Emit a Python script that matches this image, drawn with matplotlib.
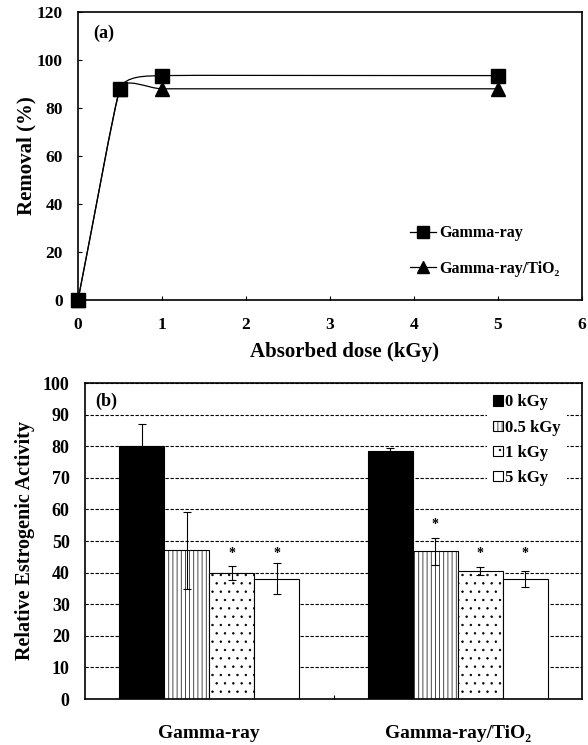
import numpy as np
import matplotlib
matplotlib.use('Agg')
import matplotlib.pyplot as plt
from matplotlib.path import Path
from matplotlib.patches import PathPatch
from matplotlib.lines import Line2D

# panel (a): removal vs absorbed dose
dose = [0, 0.5, 1, 5]
removal_gamma = [0, 88, 93.5, 93.5]
removal_tio2 = [0, 88, 88, 88]

# panel (b): relative estrogenic activity
groups = ['Gamma-ray', 'Gamma-ray/TiO₂']
dose_labels = ['0 kGy', '0.5 kGy', '1 kGy', '5 kGy']
act_gamma = [80, 47, 40, 38.1]
err_gamma = [7, 12.2, 2.2, 4.9]
act_tio2 = [78.6, 46.8, 40.5, 38.1]
err_tio2 = [0.9, 4.3, 1.4, 2.5]
star_gamma = [None, None, 46, 46]
star_tio2 = [None, 55.3, 46, 46]

plt.rcParams['font.family'] = ['Liberation Serif', 'DejaVu Serif']
plt.rcParams['font.weight'] = 'bold'
plt.rcParams['axes.labelweight'] = 'bold'
plt.rcParams['hatch.linewidth'] = 0.5
plt.rcParams['hatch.color'] = '#333333'


def smooth_path(ax, x, y):
    # Excel-like smoothed line, built in display space then mapped back
    pts = ax.transData.transform(np.column_stack([x, y]))
    n = len(pts)
    seg = [np.hypot(*(pts[i + 1] - pts[i])) for i in range(n - 1)]
    tang = []
    for i in range(n):
        d = pts[min(i + 1, n - 1)] - pts[max(i - 1, 0)]
        tang.append(d / np.hypot(*d))
    verts = [pts[0]]
    codes = [Path.MOVETO]
    for i in range(n - 1):
        a = min(seg[i], seg[i - 1]) if i > 0 else seg[i]
        b = min(seg[i], seg[i + 1]) if i + 1 < n - 1 else seg[i]
        verts += [pts[i] + tang[i] * a / 3, pts[i + 1] - tang[i + 1] * b / 3, pts[i + 1]]
        codes += [Path.CURVE4] * 3
    verts = ax.transData.inverted().transform(np.array(verts))
    return Path(verts, codes)


fig = plt.figure(figsize=(5.88, 7.45), dpi=100)

# ---------------- (a) ----------------
ax1 = fig.add_axes([78 / 588, 1 - 300 / 745, 504 / 588, 288 / 745])
ax1.set_xlim(0, 6)
ax1.set_ylim(0, 120)
ax1.set_xticks(range(7))
ax1.set_yticks(range(0, 121, 20))
for s in ax1.spines.values():
    s.set_linewidth(1.2)
ax1.tick_params(direction='in', length=3, width=0.8, labelsize=12.5, pad=11)
ax1.tick_params(axis='x', pad=12)

for yy, mk in [(removal_tio2, '^'), (removal_gamma, 's')]:
    ax1.add_patch(PathPatch(smooth_path(ax1, dose, yy), fill=False, lw=0.9, color='black', zorder=2))
    ax1.plot(dose, yy, mk, color='black', ms=10, zorder=3, clip_on=False)

handles = [Line2D([], [], color='black', lw=0.9, marker='s', ms=8),
           Line2D([], [], color='black', lw=0.9, marker='^', ms=8)]
ax1.legend(handles, ['Gamma-ray', 'Gamma-ray/TiO₂'], loc='center left',
           bbox_to_anchor=(0.659, 0.17), frameon=False, fontsize=11.5,
           borderpad=0, borderaxespad=0, handlelength=1.6, handletextpad=0.2,
           labelspacing=1.2)
ax1.text(0.03, 0.927, '(a)', transform=ax1.transAxes, fontsize=13, va='center')
ax1.set_xlabel('Absorbed dose (kGy)', fontsize=15)
ax1.set_ylabel('Removal (%)', fontsize=15)
ax1.xaxis.set_label_coords(0.528, -0.145)
ax1.yaxis.set_label_coords(-0.083, 0.5)

# ---------------- (b) ----------------
ax2 = fig.add_axes([85 / 588, 1 - 699 / 745, 497 / 588, 316 / 745])
ax2.set_xlim(-0.5, 1.5)
ax2.set_ylim(0, 100)
ax2.set_yticks(range(0, 101, 10))
for s in ax2.spines.values():
    s.set_linewidth(1.2)
ax2.yaxis.grid(True, linestyle=(0, (3, 1.5)), color='black', lw=0.8)
ax2.set_axisbelow(True)

x = np.arange(len(groups))
w = 0.181
fills = ['black', 'white', 'white', 'white']
hatches = [None, '||||', '..', None]
for i in range(4):
    xi = x + (i - 1.5) * w
    ax2.bar(xi, [act_gamma[i], act_tio2[i]], w, yerr=[err_gamma[i], err_tio2[i]],
            color=fills[i], edgecolor='black', hatch=hatches[i], lw=0.8,
            label=dose_labels[i], zorder=2,
            error_kw=dict(ecolor='black', elinewidth=0.8, capsize=3, capthick=0.8))
    for xs, st in zip(xi, [star_gamma[i], star_tio2[i]]):
        if st is not None:
            ax2.text(xs, st, '*', ha='center', va='center', fontsize=10, zorder=4)

ax2.set_xticks(x, groups)
ax2.set_xticks([0.5], minor=True)
ax2.tick_params(axis='x', which='major', length=0, labelsize=14, pad=19)
ax2.tick_params(axis='x', which='minor', direction='in', length=3, width=0.8)
ax2.tick_params(axis='y', length=0, labelsize=13, pad=11)
ax2.set_ylabel('Relative Estrogenic Activity', fontsize=14.5)
ax2.yaxis.set_label_coords(-0.1, 0.5)
leg = ax2.legend(loc='upper left', bbox_to_anchor=(0.8085, 0.985), fontsize=12,
                 frameon=True, fancybox=False, framealpha=1, edgecolor='none',
                 borderaxespad=0, borderpad=0.4, handlelength=0.55, handleheight=0.55,
                 handletextpad=0.15, labelspacing=0.55)
ax2.text(0.02, 0.943, '(b)', transform=ax2.transAxes, fontsize=13, va='center')

fig.savefig('out.png', dpi=100)
